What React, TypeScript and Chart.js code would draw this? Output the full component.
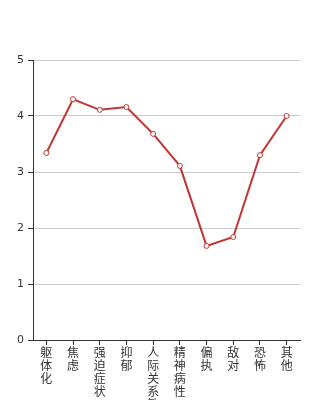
import React, { useEffect, useRef } from "react";
import { Chart, registerables } from "chart.js";

Chart.register(...registerables);

const categories = ["躯体化", "焦虑", "强迫症状", "抑郁", "人际关系敏感", "精神病性", "偏执", "敌对", "恐怖", "其他"];
const values = [3.34, 4.3, 4.11, 4.16, 3.68, 3.11, 1.68, 1.84, 3.3, 4.0];
const yTicks = [0, 1, 2, 3, 4, 5];

export default function App() {
  const ref = useRef<HTMLCanvasElement>(null);
  useEffect(() => {
    if (!ref.current) return;
    const chart = new Chart(ref.current, {
      type: "line",
      data: {
        labels: categories.map((c) => c.split("")),
        datasets: [
          {
            data: values,
            borderColor: "#c23531",
            borderWidth: 2,
            pointRadius: 2.5,
            pointBorderWidth: 1,
            pointBackgroundColor: "#fff",
            pointBorderColor: "#c23531",
            tension: 0,
          },
        ],
      },
      options: {
        animation: false,
        responsive: false,
        layout: { padding: { top: 60, right: 34, left: 0, bottom: 0 } },
        plugins: { legend: { display: false }, tooltip: { enabled: false } },
        scales: {
          x: {
            offset: true,
            grid: { display: true, drawOnChartArea: false, tickColor: "#333", tickLength: 5 },
            border: { color: "#333" },
            ticks: {
              autoSkip: false,
              maxRotation: 0,
              minRotation: 0,
              color: "#333",
              padding: 1,
              font: { family: "'Noto Sans CJK SC'", size: 12, lineHeight: 1.08 },
            },
            afterFit: (s: any) => {
              s.height = 60;
            },
          },
          y: {
            min: 0,
            max: 5,
            afterBuildTicks: (s: any) => {
              s.ticks = yTicks.map((v) => ({ value: v }));
            },
            grid: { color: "#ccc", tickColor: "#333", tickLength: 5 },
            border: { color: "#333" },
            ticks: {
              color: "#333",
              padding: 4,
              font: { family: "'DejaVu Sans'", size: 11 },
            },
            afterFit: (s: any) => {
              s.width = 33;
            },
          },
        },
      },
    });
    return () => chart.destroy();
  }, []);
  return (
    <div style={{ position: "fixed", left: 0, top: 0, width: 334, height: 400, background: "#fff" }}>
      <canvas ref={ref} width={334} height={400} />
    </div>
  );
}
